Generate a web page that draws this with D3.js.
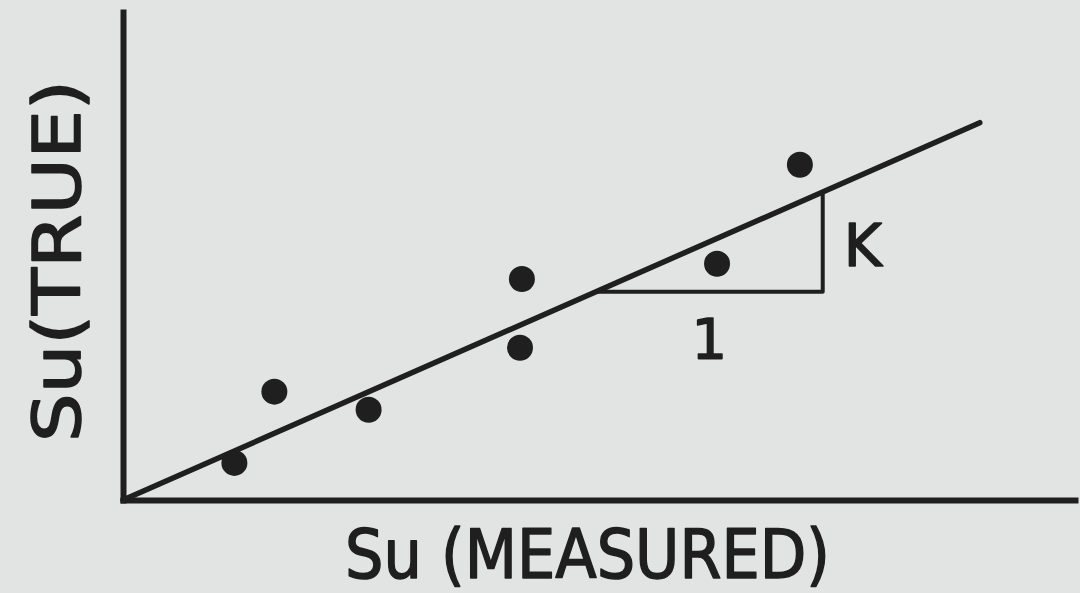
<!DOCTYPE html>
<html>
<head>
<meta charset="utf-8">
<script src="https://cdn.jsdelivr.net/npm/d3@7"></script>
<style>
  html, body { margin: 0; padding: 0; background: #e2e4e3; }
  svg { display: block; }
  text { font-family: "DejaVu Sans", "Liberation Sans", sans-serif; fill: #1f1f1f; stroke: #1f1f1f; stroke-width: 1.6; stroke-linejoin: round; }
</style>
</head>
<body>
<svg id="chart" width="1080" height="593"></svg>
<script>
// Calibration samples: measured vs. true strength
const measured = [1.17, 1.59, 2.58, 4.19, 4.17, 6.24, 7.11];
const trueVals = [0.76, 2.22, 1.85, 4.53, 3.12, 4.84, 6.87];

// Fitted line through the origin, slope K
const slopeK = 0.859;
const lineEnd = 9.0;
// Slope triangle: horizontal run start and end (measured units)
const runStart = 4.97;
const runEnd = 7.35;

const axisTitleX = "Su (MEASURED)";
const axisTitleY = "Su(TRUE)";
const slopeLabel = "K";
const runLabel = "1";

const ink = "#1f1f1f";
const svg = d3.select("#chart");

const x = d3.scaleLinear().domain([0, 10]).range([123, 1075]);
const y = d3.scaleLinear().domain([0, 10]).range([500, 12]);

// Axes: bare lines, no ticks
svg.append("g").attr("transform", `translate(0,${y(0)})`)
  .call(d3.axisBottom(x).tickValues([]).tickSizeOuter(0));
svg.append("g").attr("transform", `translate(${x(0)},0)`)
  .call(d3.axisLeft(y).tickValues([]).tickSizeOuter(0));
svg.selectAll(".domain")
  .attr("stroke", ink).attr("stroke-width", 6)
  .attr("stroke-linecap", "square");

// Fitted line
const line = d3.line().x(d => x(d[0])).y(d => y(d[1]));
svg.append("path")
  .datum([[0, 0], [lineEnd, lineEnd * slopeK]])
  .attr("d", line)
  .attr("fill", "none").attr("stroke", ink)
  .attr("stroke-width", 5.5).attr("stroke-linecap", "round");

// Slope triangle
svg.append("path")
  .datum([[runStart, runStart * slopeK], [runEnd, runStart * slopeK], [runEnd, runEnd * slopeK]])
  .attr("d", line)
  .attr("fill", "none").attr("stroke", ink)
  .attr("stroke-width", 4).attr("stroke-linejoin", "round");

// Data points
svg.append("g").selectAll("circle")
  .data(measured.map((m, i) => [m, trueVals[i]]))
  .join("circle")
  .attr("cx", d => x(d[0]))
  .attr("cy", d => y(d[1]))
  .attr("r", 13)
  .attr("fill", ink);

// Triangle labels
svg.append("text")
  .attr("x", x(runEnd) + 40).attr("y", y((runStart + runEnd) / 2 * slopeK) + 8)
  .attr("text-anchor", "middle").attr("dominant-baseline", "middle")
  .attr("font-size", 58)
  .text(slopeLabel);
svg.append("text")
  .attr("x", x((runStart + runEnd) / 2)).attr("y", y(runStart * slopeK) + 66)
  .attr("text-anchor", "middle")
  .attr("font-size", 56)
  .text(runLabel);

// Axis titles
svg.append("text")
  .attr("x", 345).attr("y", 578)
  .attr("font-size", 68)
  .attr("textLength", 485).attr("lengthAdjust", "spacingAndGlyphs")
  .text(axisTitleX);
svg.append("text")
  .attr("transform", "translate(80,442) rotate(-90)")
  .attr("font-size", 66)
  .attr("textLength", 362).attr("lengthAdjust", "spacingAndGlyphs")
  .text(axisTitleY);
</script>
</body>
</html>
